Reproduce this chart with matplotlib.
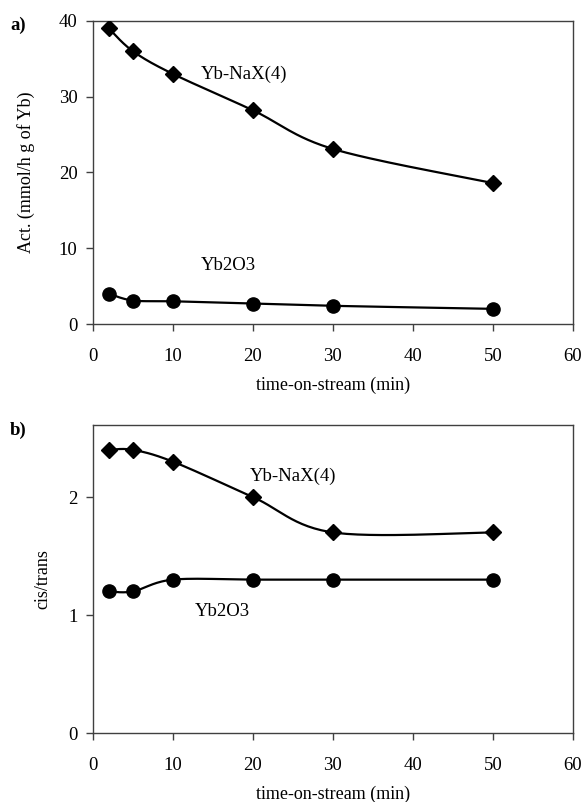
import numpy as np
import matplotlib
matplotlib.use("Agg")
import matplotlib.pyplot as plt

# data
time_min = [2, 5, 10, 20, 30, 50]
act_naX = [39.0, 36.0, 33.0, 28.2, 23.1, 18.6]
act_yb2o3 = [4.0, 3.1, 3.0, 2.7, 2.4, 2.0]
ct_naX = [2.4, 2.4, 2.3, 2.0, 1.7, 1.7]
ct_yb2o3 = [1.2, 1.2, 1.3, 1.3, 1.3, 1.3]
x_ticks = [0, 10, 20, 30, 40, 50, 60]

plt.rcParams['font.family'] = ['Liberation Serif', 'DejaVu Serif']
FS = 13.5
SPINE = '#404040'


def smooth(ax, x, y, n=30):
    # excel-like smoothed line: bezier with control points from neighbours,
    # computed in axes-fraction space so the curve looks right on screen
    x0, x1 = ax.get_xlim()
    y0, y1 = ax.get_ylim()
    px = (np.asarray(x, float) - x0) / (x1 - x0)
    py = (np.asarray(y, float) - y0) / (y1 - y0) * 0.65
    pts = np.column_stack([px, py])
    out = [pts[0]]
    t = np.linspace(0, 1, n)[1:]
    for i in range(len(pts) - 1):
        p0 = pts[i - 1] if i > 0 else pts[i]
        p3 = pts[i + 2] if i + 2 < len(pts) else pts[i + 1]
        c1 = pts[i] + (pts[i + 1] - p0) / 6
        c2 = pts[i + 1] - (p3 - pts[i]) / 6
        for tt in t:
            b = ((1 - tt) ** 3 * pts[i] + 3 * (1 - tt) ** 2 * tt * c1
                 + 3 * (1 - tt) * tt ** 2 * c2 + tt ** 3 * pts[i + 1])
            out.append(b)
    out = np.array(out)
    sx = out[:, 0] * (x1 - x0) + x0
    sy = out[:, 1] / 0.65 * (y1 - y0) + y0
    return sx, sy


def draw_series(ax, x, y, marker, ms):
    sx, sy = smooth(ax, x, y)
    ax.plot(sx, sy, color='black', lw=1.6, zorder=2)
    ax.plot(x, y, linestyle='none', marker=marker, ms=ms, color='black', zorder=3)


def style(ax):
    for s in ax.spines.values():
        s.set_color(SPINE)
        s.set_linewidth(1.0)
    ax.tick_params(direction='out', length=5, width=1.0, color=SPINE,
                   labelsize=FS)
    ax.tick_params(axis='x', pad=12)
    ax.tick_params(axis='y', pad=6)
    ax.set_xticks(x_ticks)
    ax.set_xlabel('time-on-stream (min)', fontsize=FS - 0.5, labelpad=8.5)


fig = plt.figure(figsize=(5.84, 8.02), dpi=100)

ax1 = fig.add_axes([0.159, 0.596, 0.822, 0.378])
ax1.set_xlim(0, 60)
ax1.set_ylim(0, 40)
ax1.set_yticks([0, 10, 20, 30, 40])
style(ax1)
draw_series(ax1, time_min, act_naX, 'D', 8)
draw_series(ax1, time_min, act_yb2o3, 'o', 9.5)
ax1.set_ylabel('Act. (mmol/h g of Yb)', fontsize=FS - 0.5, labelpad=17)
ax1.text(13.5, 31.8, 'Yb-NaX(4)', fontsize=FS, va='bottom')
ax1.text(13.5, 6.6, 'Yb2O3', fontsize=FS, va='bottom')
fig.text(0.017, 0.968, 'a)', fontsize=FS, fontweight='bold', va='center')

ax2 = fig.add_axes([0.159, 0.086, 0.822, 0.384])
ax2.set_xlim(0, 60)
ax2.set_ylim(0, 2.61)
ax2.set_yticks([0, 1, 2])
style(ax2)
draw_series(ax2, time_min, ct_naX, 'D', 8)
draw_series(ax2, time_min, ct_yb2o3, 'o', 9.5)
ax2.set_ylabel('cis/trans', fontsize=FS - 0.5, labelpad=12)
ax2.text(19.6, 2.1, 'Yb-NaX(4)', fontsize=FS, va='bottom')
ax2.text(12.8, 0.96, 'Yb2O3', fontsize=FS, va='bottom')
fig.text(0.017, 0.463, 'b)', fontsize=FS, fontweight='bold', va='center')

fig.savefig('out.png', dpi=100)
